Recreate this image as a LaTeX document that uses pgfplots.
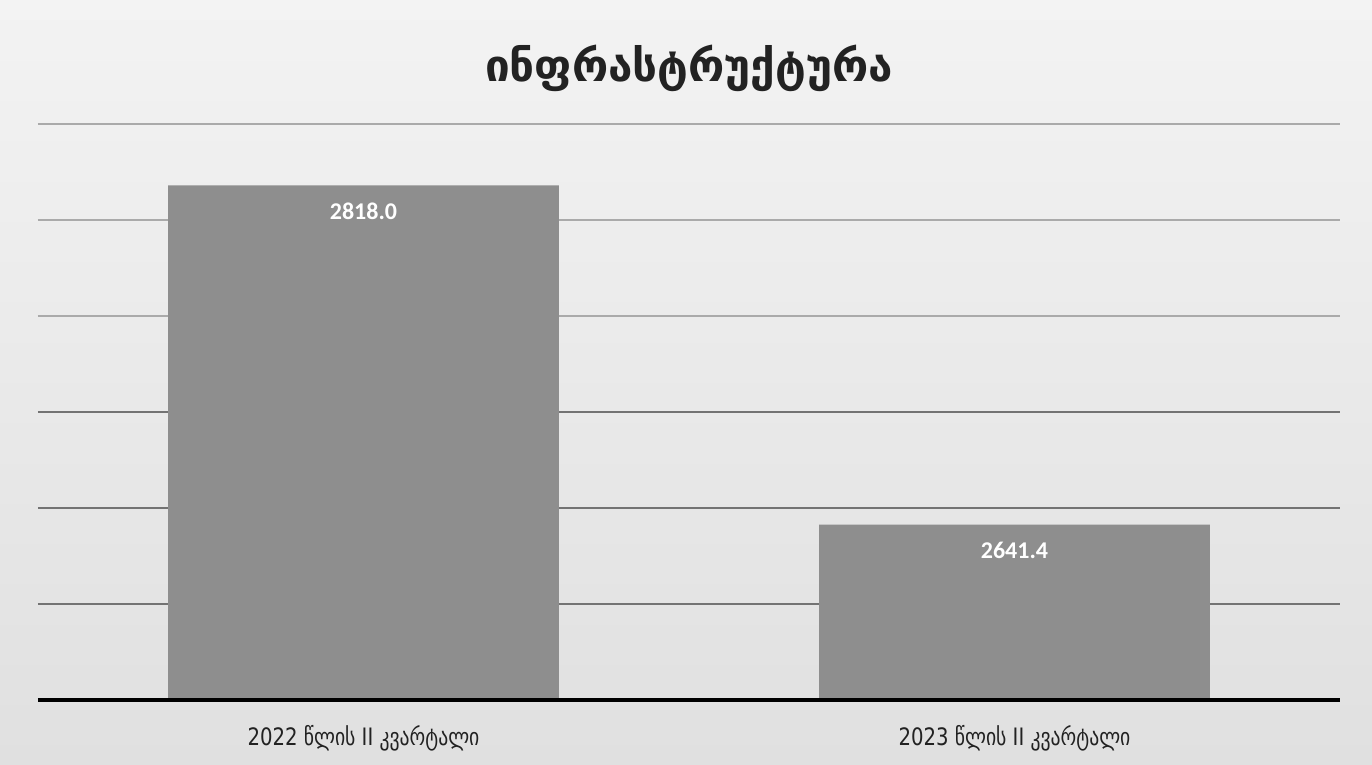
\documentclass[border=0pt]{standalone}
\usepackage{fontspec}
\setmainfont{DejaVu Sans}
\newfontfamily\geo{DejaVu Sans}
\newfontfamily\lab[FakeStretch=0.82]{DejaVu Sans}
\newfontfamily\num{Carlito}
\usepackage{pgfplots}
\pgfplotsset{compat=1.18}
\definecolor{bgtop}{RGB}{243,243,243}
\definecolor{bgbot}{RGB}{224,224,224}
\definecolor{barc}{RGB}{142,142,142}
\definecolor{gridc}{RGB}{115,115,115}
\definecolor{gridl}{RGB}{170,170,170}
\definecolor{txt}{RGB}{34,34,34}
\begin{document}
\begin{tikzpicture}
\shade[top color=bgtop,bottom color=bgbot] (-19pt,-32.5pt) rectangle (667pt,350pt);
\useasboundingbox (-19pt,-32.5pt) rectangle (667pt,350pt);
\begin{axis}[at={(0,0)},anchor=south west, scale only axis,
  width=651pt, height=288pt,
  xmin=-0.5, xmax=1.5, ymin=2550, ymax=2850,
  ybar, bar width=0.6,
  xtick={0,1},
  xticklabels={{2022 წლის II კვარტალი},{2023 წლის II კვარტალი}},
  xticklabel style={font=\lab\fontsize{12}{14}\selectfont, text=txt, yshift=-9pt},
  ytick={2600,2650,2700}, yticklabels={},
  extra y ticks={2750,2800,2850}, extra y tick labels={},
  extra y tick style={grid style={gridl, line width=0.6pt}},
  ymajorgrids, grid style={gridc, line width=0.6pt},
  major tick length=0,
  axis line style={draw=none},
  title={ინფრასტრუქტურა},
  title style={font=\geo\bfseries\fontsize{22}{26}\selectfont, text=txt, at={(0.5,1)}, anchor=center, yshift=22pt},
  nodes near coords={\pgfmathprintnumber[fixed,fixed zerofill,precision=1,1000 sep={},assume math mode=true]{\pgfplotspointmeta}},
  every node near coord/.append style={anchor=center, yshift=-13pt, text=white, font=\num\bfseries\fontsize{12}{14}\selectfont},
]
\addplot[fill=barc, draw=none] coordinates {(0,2818.0) (1,2641.4)};
\end{axis}
\draw[black, line width=2pt] (0,0) -- (651pt,0);
\end{tikzpicture}
\end{document}
